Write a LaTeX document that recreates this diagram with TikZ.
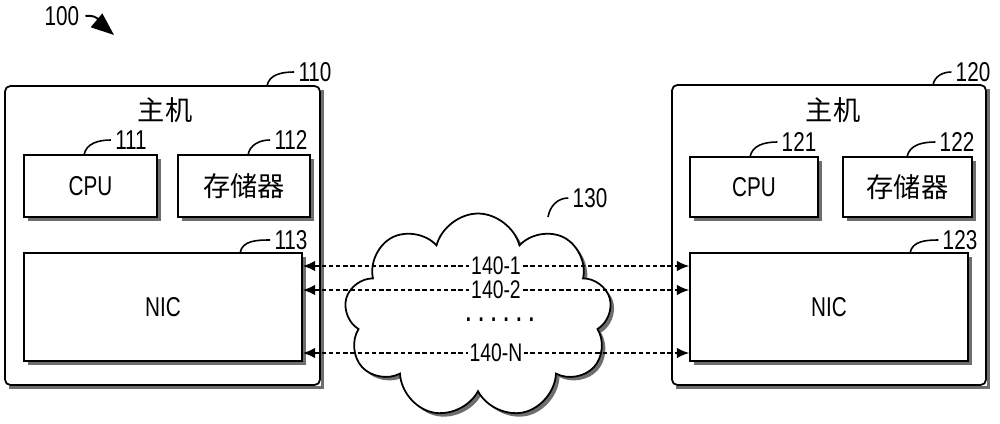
\documentclass[tikz,border=0pt]{standalone}
\usepackage{fontspec}
\setmainfont{Liberation Sans}[FakeStretch=0.76]
\newfontfamily\cjk{Noto Sans CJK SC}
\usetikzlibrary{arrows.meta,positioning,calc,shapes.symbols}
\definecolor{shadowgray}{RGB}{110,110,110}

\begin{document}
\begin{tikzpicture}[x=0.02cm, y=-0.02cm, font=\fontsize{15.5}{17}\selectfont]
    \tikzset{
      host/.style={draw, line width=1pt, rounded corners=3pt, fill=white},
      part/.style={draw, line width=1pt, fill=white},
      lead/.style={line width=0.9pt},
      tag/.style={fill=white, inner xsep=1pt, inner ysep=0pt, font=\fontsize{14.5}{16}\selectfont},
      link/.style={{Latex[length=7pt,width=6pt]}-{Latex[length=7pt,width=6pt]}, line width=0.9pt, dash pattern=on 2.5pt off 1.6pt}
    }
    \useasboundingbox (0,0) rectangle (1000,423);
    % figure number
    \node (l100) at (62,16) {100};
    \coordinate (t100) at (114,35);
    \draw[line width=1.1pt, -{Triangle[length=13pt,width=10pt]}] (l100.east) to[out=10,in=140] (t100);
    % left host
    \node[host, minimum width=6.3cm, minimum height=5.98cm] (h1) at (162.5,235.5) {};
    \node (m1) at (165,110) {\cjk 主机};
    \node[part, minimum width=2.66cm, minimum height=1.24cm] (c1) at (90.5,186) {CPU};
    \node[part, minimum width=2.64cm, minimum height=1.24cm] (s1) at (244,186) {\cjk 存储器};
    \node[part, minimum width=5.56cm, minimum height=2.16cm] (n1) at (163,307) {NIC};
    % right host
    \node[host, minimum width=6.28cm, minimum height=6cm] (h2) at (829,235) {};
    \node (m2) at (833,110) {\cjk 主机};
    \node[part, minimum width=2.56cm, minimum height=1.2cm] (c2) at (754,187) {CPU};
    \node[part, minimum width=2.58cm, minimum height=1.2cm] (s2) at (907.5,187) {\cjk 存储器};
    \node[part, minimum width=5.56cm, minimum height=2.16cm] (n2) at (829,307) {NIC};
    % shadows along right and bottom edges
    \foreach \b in {h1,c1,s1,n1,h2,c2,s2,n2} {
      \fill[shadowgray] ($(\b.north east)+(0,5)$) rectangle ($(\b.south east)+(3.5,3.5)$);
      \fill[shadowgray] ($(\b.south west)+(5,0)$) rectangle ($(\b.south east)+(3.5,3.5)$);
    }
    % network
    \tikzset{netcloud/.style={cloud, cloud puffs=9, cloud puff arc=150, cloud ignores aspect,
                              minimum width=5.35cm, minimum height=4.1cm}}
    \node[netcloud, fill=shadowgray] (netshade) at (481.5,319.5) {};
    \node[netcloud, draw, line width=1pt, fill=white] (net) at (478,316) {};
    % reference numerals
    \node (l110) at (315,72) {110};
    \node (l111) at (131,140) {111};
    \node (l112) at (291,140) {112};
    \node (l113) at (291,240) {113};
    \node (l120) at (973,72) {120};
    \node (l121) at (799,142) {121};
    \node (l122) at (957,142) {122};
    \node (l123) at (960,240) {123};
    \node (l130) at (590,198) {130};
    \coordinate (p110) at (267,86);
    \coordinate (p111) at (84,155);
    \coordinate (p112) at (248,155);
    \coordinate (p113) at (240,253);
    \coordinate (p120) at (933,85);
    \coordinate (p121) at (750,157);
    \coordinate (p122) at (907,157);
    \coordinate (p123) at (910,253);
    \coordinate (p130) at (548,217);
    \foreach \n in {110,111,112,113,120,121,122,123,130}
      \draw[lead] (p\n) to[out=80,in=180] ([xshift=1pt]l\n.west);
    % links
    \coordinate (y1) at (0,266);
    \coordinate (y2) at (0,290);
    \coordinate (y3) at (0,353);
    \draw[link] (n1.east |- y1) -- node[tag] {140-1} (n2.west |- y1);
    \draw[link] (n1.east |- y2) -- node[tag] {140-2} (n2.west |- y2);
    \draw[link] (n1.east |- y3) -- node[tag] {140-N} (n2.west |- y3);
    \node[inner sep=0pt, font=\bfseries\fontsize{14}{14}\selectfont\addfontfeature{LetterSpace=30}] (dots) at (500,320) {......};
  \end{tikzpicture}
\end{document}
